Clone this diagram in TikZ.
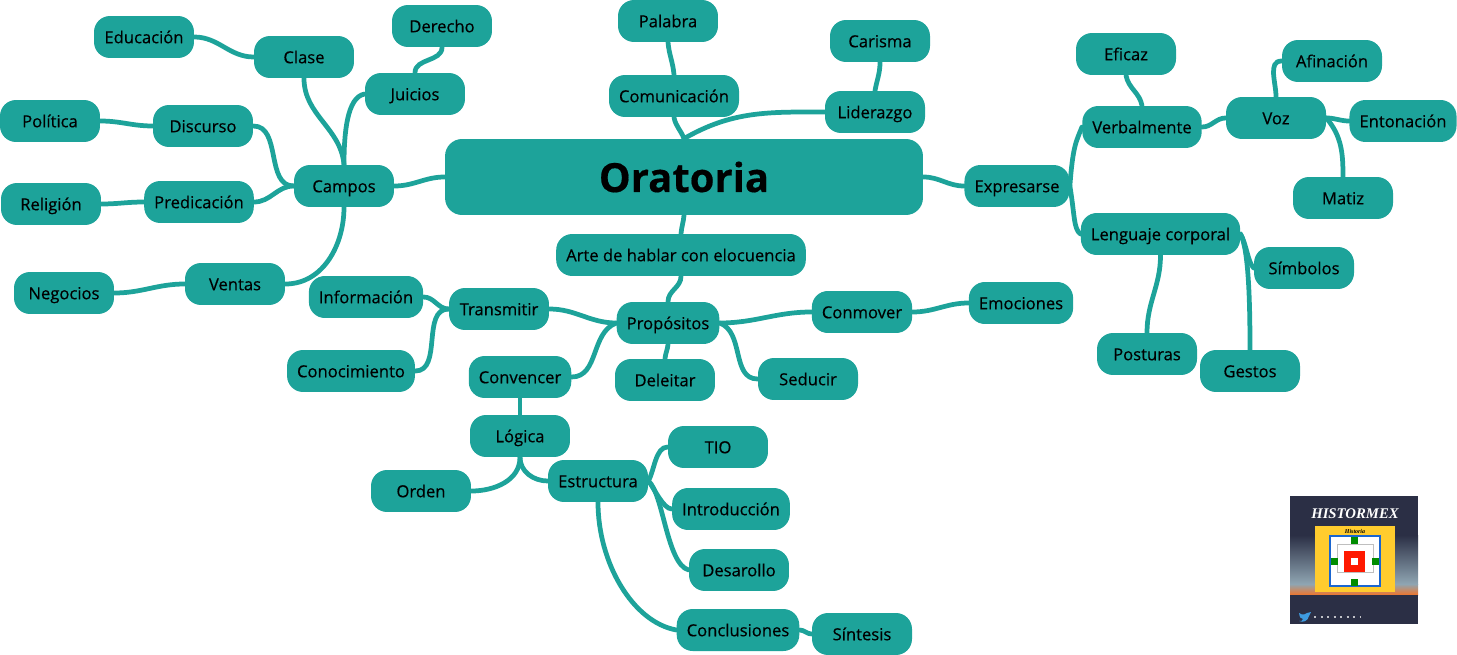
\documentclass[tikz,border=0pt]{standalone}
\usepackage{fontspec}
\setmainfont[FakeBold=0.4]{Open Sans}
\newfontfamily\titlefont[FakeBold=0.4]{Open Sans Bold}
\newfontfamily\logofont{Liberation Serif}
\definecolor{tealmap}{HTML}{1DA39A}
\definecolor{logonavy}{HTML}{2B2F45}
\definecolor{logosky}{HTML}{8FA5B2}
\definecolor{logosun}{HTML}{F0752B}
\definecolor{logoyellow}{HTML}{FFCC2E}
\definecolor{logoblue}{HTML}{1A66D0}
\definecolor{logobird}{HTML}{3E9BE0}
\tikzset{
  topic/.style={fill=tealmap,rounded corners=.32cm,minimum width=2cm,
    minimum height=.84cm,inner xsep=.2cm,inner ysep=0pt,text height=.33cm,text depth=.08cm,
    font=\fontsize{9.45}{11}\selectfont},
  link/.style={draw=tealmap,line width=.095cm,line cap=round},
}
\begin{document}
\begin{tikzpicture}[x=.02cm,y=.02cm]
\useasboundingbox (0,0) rectangle (1457,-655);
% Central node
\node[topic,minimum width=9.56cm,minimum height=1.52cm,rounded corners=.34cm,
  text height=.7cm,text depth=.1cm,
  font=\titlefont\fontsize{22.8}{26}\selectfont] (oratoria) at (684,-177) {Oratoria};
% Upper branch
\node[topic] (palabra) at (668,-21) {Palabra};
\node[topic] (comunicacion) at (674,-96) {Comunicación};
\node[topic] (carisma) at (880,-41) {Carisma};
\node[topic] (liderazgo) at (875,-112) {Liderazgo};
% Right branch
\node[topic] (expresarse) at (1017,-186) {Expresarse};
\node[topic] (eficaz) at (1126,-54) {Eficaz};
\node[topic] (verbalmente) at (1142,-127) {Verbalmente};
\node[topic] (voz) at (1276,-118) {Voz};
\node[topic] (afinacion) at (1332,-61) {Afinación};
\node[topic] (entonacion) at (1403,-121) {Entonación};
\node[topic] (matiz) at (1343,-198) {Matiz};
\node[topic] (lenguaje) at (1160.5,-234) {Lenguaje corporal};
\node[topic] (simbolos) at (1304,-268) {Símbolos};
\node[topic] (posturas) at (1147,-354) {Posturas};
\node[topic] (gestos) at (1250,-371) {Gestos};
% Left branch
\node[topic] (campos) at (344,-186) {Campos};
\node[topic] (clase) at (304,-57) {Clase};
\node[topic] (educacion) at (144,-37) {Educación};
\node[topic] (juicios) at (415,-94) {Juicios};
\node[topic] (derecho) at (442,-26) {Derecho};
\node[topic] (discurso) at (203,-126) {Discurso};
\node[topic] (politica) at (50,-121) {Política};
\node[topic] (predicacion) at (199,-202) {Predicación};
\node[topic] (religion) at (51,-204) {Religión};
\node[topic] (ventas) at (235,-284) {Ventas};
\node[topic] (negocios) at (64,-293) {Negocios};
% Lower branch
\node[topic] (arte) at (681,-255) {Arte de hablar con elocuencia};
\node[topic] (propositos) at (668,-323) {Propósitos};
\node[topic] (conmover) at (862,-312) {Conmover};
\node[topic] (emociones) at (1021,-303) {Emociones};
\node[topic] (seducir) at (808,-379) {Seducir};
\node[topic] (deleitar) at (665,-380) {Deleitar};
\node[topic] (transmitir) at (499,-309) {Transmitir};
\node[topic] (informacion) at (366,-297) {Información};
\node[topic] (conocimiento) at (351,-371) {Conocimiento};
\node[topic] (convencer) at (520,-377) {Convencer};
\node[topic] (logica) at (520,-436) {Lógica};
\node[topic] (orden) at (421,-491) {Orden};
\node[topic] (estructura) at (598,-481) {Estructura};
\node[topic] (tio) at (718,-447) {TIO};
\node[topic] (introduccion) at (731,-509) {Introducción};
\node[topic] (desarollo) at (739,-570) {Desarollo};
\node[topic] (conclusiones) at (738,-630) {Conclusiones};
\node[topic] (sintesis) at (862,-634) {Síntesis};
% Connectors of the upper branch
\draw[link] (oratoria.north) to[out=110,in=280] (comunicacion.south);
\draw[link] (oratoria.north) to[out=30,in=180] (liderazgo.west);
\draw[link] (comunicacion.north) to[out=95,in=275] (palabra.south);
\draw[link] (liderazgo.north) to[out=80,in=270] (carisma.south);
% Connectors of the right branch
\draw[link] (oratoria.east) to[out=0,in=180] (expresarse.west);
\draw[link] (expresarse.east) .. controls +(3,40) and +(-6,-15) .. (verbalmente.west);
\draw[link] (expresarse.east) .. controls +(5,-30) and +(-7,5) .. (lenguaje.west);
\draw[link] (verbalmente.north) to[out=100,in=280] (eficaz.south);
\draw[link] (verbalmente.east) to[out=0,in=180] (voz.west);
\draw[link] (voz.north) to[out=90,in=180] (afinacion.west);
\draw[link] (voz.east) to[out=0,in=180] (entonacion.west);
\draw[link] (voz.east) to[out=-50,in=90] (matiz.north);
\draw[link] (lenguaje.east) .. controls +(6,-10) and +(-6,6) .. (simbolos.west);
\draw[link] (lenguaje.east) .. controls +(8,-15) and +(0,50) .. (gestos.north);
\draw[link] (lenguaje.south) to[out=270,in=90] (posturas.north);
% Connectors of the left branch
\draw[link] (oratoria.west) to[out=180,in=0] (campos.east);
\draw[link] (campos.north) to[out=95,in=270] (clase.south);
\draw[link] (campos.north) .. controls +(0,30) and +(-18,-3) .. (juicios.west);
\draw[link] (campos.west) to[out=180,in=0] (discurso.east);
\draw[link] (campos.west) to[out=180,in=0] (predicacion.east);
\draw[link] (campos.south) to[out=270,in=0] (ventas.east);
\draw[link] (juicios.north) to[out=90,in=270] (derecho.south);
\draw[link] (clase.west) to[out=180,in=0] (educacion.east);
\draw[link] (discurso.west) to[out=180,in=0] (politica.east);
\draw[link] (predicacion.west) to[out=180,in=0] (religion.east);
\draw[link] (ventas.west) to[out=180,in=0] (negocios.east);
% Connectors of the lower branch
\draw[link] (oratoria.south) to[out=265,in=85] (arte.north);
\draw[link] (arte.south) to[out=270,in=90] (propositos.north);
\draw[link] (propositos.east) to[out=0,in=180] (conmover.west);
\draw[link] (conmover.east) to[out=0,in=180] (emociones.west);
\draw[link] (propositos.east) to[out=-20,in=180] (seducir.west);
\draw[link] (propositos.south) to[out=265,in=85] (deleitar.north);
\draw[link] (propositos.west) to[out=180,in=0] (transmitir.east);
\draw[link] (propositos.west) to[out=200,in=0] (convencer.east);
\draw[link] (transmitir.west) to[out=180,in=0] (informacion.east);
\draw[link] (transmitir.west) to[out=180,in=0] (conocimiento.east);
\draw[link] (convencer.south) to[out=270,in=90] (logica.north);
\draw[link] (logica.south) to[out=270,in=0] (orden.east);
\draw[link] (logica.south) to[out=270,in=180] (estructura.west);
\draw[link] (estructura.east) to[out=60,in=180,looseness=.8] (tio.west);
\draw[link] (estructura.east) to[out=-50,in=180,looseness=.6] (introduccion.west);
\draw[link] (estructura.east) .. controls +(15,-12) and +(-22,6) .. (desarollo.west);
\draw[link] (estructura.south) .. controls +(0,-60) and +(-44,8) .. (conclusiones.west);
\draw[link] (conclusiones.east) to[out=0,in=180] (sintesis.west);
%% Logo in the corner
\fill[logonavy] (1290,-496) rectangle (1418,-535);
\shade[top color=logonavy,bottom color=logosky] (1290,-535) rectangle (1418,-584);
\shade[top color=logosky,bottom color=logosun] (1290,-584) rectangle (1418,-595);
\fill[logonavy] (1290,-595) rectangle (1418,-624);
\fill[logoyellow] (1315,-526) rectangle (1395,-592);
\fill[white,draw=logoblue,line width=.03cm] (1330,-536) rectangle (1380,-586);
\draw[gray!50,line width=.02cm] (1337,-544) rectangle (1373,-572);
\fill[green!55!black] (1351,-537) rectangle (1358,-544);
\fill[green!55!black] (1331,-558) rectangle (1338,-565);
\fill[green!55!black] (1372,-558) rectangle (1379,-565);
\fill[green!55!black] (1351,-579) rectangle (1358,-586);
\fill[red!80!orange] (1344,-551) rectangle (1365,-572);
\fill[white] (1351,-558) rectangle (1358,-565);
\node[text=white,font=\logofont\bfseries\itshape\fontsize{8.4}{10}\selectfont,inner sep=0pt] (logotitle) at (1355,-514) {HISTORMEX};
\node[font=\logofont\bfseries\itshape\fontsize{3.4}{4}\selectfont,inner sep=0pt] (logosub) at (1355,-531) {Historia};
\fill[logobird] (1299,-613) .. controls (1303,-616) and (1306,-614) .. (1307,-613)
  -- (1311,-612) -- (1309,-616) .. controls (1308,-621) and (1303,-623) .. (1299,-621)
  .. controls (1302,-621) .. (1303,-619) .. controls (1300,-618) .. cycle;
\draw[white!70!logonavy,line width=.03cm,dash pattern=on .04cm off .09cm] (1314,-617) -- (1360,-617);
\end{tikzpicture}
\end{document}
